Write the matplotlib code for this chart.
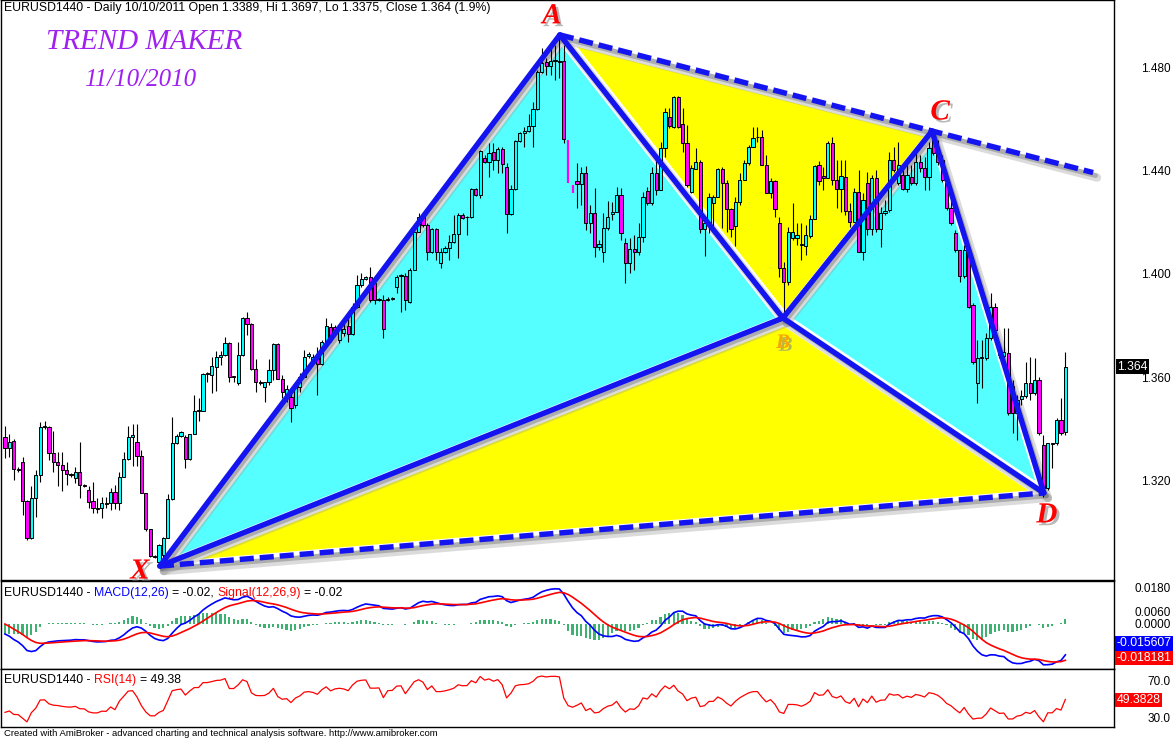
import numpy as np
import matplotlib
matplotlib.use("Agg")
import matplotlib.pyplot as plt
from matplotlib import patheffects as pe
from matplotlib.transforms import offset_copy

# EURUSD daily bars (oldest first, last bar = 10/10/2011)
opens = [
    1.3369, 1.3326, 1.3353, 1.3245, 1.3270, 1.3121, 1.2978, 1.3133, 1.3222, 1.3408,
    1.3408, 1.3307, 1.3270, 1.3260, 1.3240, 1.3225, 1.3210, 1.3233, 1.3183, 1.3164,
    1.3121, 1.3090, 1.3094, 1.3113, 1.3113, 1.3156, 1.3113, 1.3214, 1.3284, 1.3369,
    1.3350, 1.3295, 1.3152, 1.3013, 1.2908, 1.2885, 1.2912, 1.2978, 1.3129, 1.3346,
    1.3373, 1.3369, 1.3284, 1.3381, 1.3469, 1.3469, 1.3613, 1.3609, 1.3640, 1.3678,
    1.3686, 1.3733, 1.3605, 1.3578, 1.3686, 1.3830, 1.3806, 1.3632, 1.3582, 1.3562,
    1.3582, 1.3628, 1.3729, 1.3594, 1.3520, 1.3524, 1.3493, 1.3562, 1.3601, 1.3682,
    1.3667, 1.3675, 1.3651, 1.3736, 1.3795, 1.3795, 1.3744, 1.3771, 1.3798, 1.3767,
    1.3872, 1.3957, 1.3980, 1.3988, 1.3965, 1.3899, 1.3899, 1.3899, 1.3903, 1.3949,
    1.3992, 1.3992, 1.3891, 1.4015, 1.4162, 1.4220, 1.4189, 1.4085, 1.4174, 1.4042,
    1.4085, 1.4100, 1.4123, 1.4154, 1.4228, 1.4220, 1.4220, 1.4329, 1.4305, 1.4449,
    1.4433, 1.4472, 1.4441, 1.4483, 1.4414, 1.4232, 1.4329, 1.4514, 1.4545, 1.4553,
    1.4572, 1.4638, 1.4781, 1.4820, 1.4805, 1.4824, 1.4824, 1.4824, 1.4518, 1.4344,
    1.4360, 1.4348, 1.4390, 1.4197, 1.4236, 1.4104, 1.4085, 1.4178, 1.4232, 1.4240,
    1.4305, 1.4120, 1.4042, 1.4096, 1.4085, 1.4143, 1.4321, 1.4274, 1.4390, 1.4325,
    1.4487, 1.4607, 1.4569, 1.4685, 1.4580, 1.4507, 1.4317, 1.4406, 1.4433, 1.4174,
    1.4197, 1.4274, 1.4298, 1.4406, 1.4352, 1.4251, 1.4185, 1.4278, 1.4363, 1.4429,
    1.4491, 1.4530, 1.4530, 1.4421, 1.4313, 1.4360, 1.4197, 1.4023, 1.3969, 1.4139,
    1.4139, 1.4112, 1.4108, 1.4147, 1.4212, 1.4421, 1.4379, 1.4371, 1.4507, 1.4363,
    1.4329, 1.4375, 1.4243, 1.4201, 1.4317, 1.4085, 1.4352, 1.4174, 1.4371, 1.4174,
    1.4236, 1.4247, 1.4441, 1.4352, 1.4383, 1.4329, 1.4375, 1.4352, 1.4433, 1.4410,
    1.4375, 1.4518, 1.4468, 1.4441, 1.4352, 1.4255, 1.4158, 1.4093, 1.3992, 1.4093,
    1.3880, 1.3578, 1.3675, 1.3675, 1.3752, 1.3872, 1.3686, 1.3682, 1.3694, 1.3566,
    1.3462, 1.3516, 1.3527, 1.3578, 1.3539, 1.3589, 1.3338, 1.3171, 1.3342, 1.3346,
    1.3435, 1.3389,
]
highs = [
    1.3411, 1.3380, 1.3360, 1.3252, 1.3291, 1.3125, 1.3177, 1.3241, 1.3427, 1.3430,
    1.3410, 1.3390, 1.3310, 1.3310, 1.3270, 1.3230, 1.3253, 1.3350, 1.3187, 1.3177,
    1.3195, 1.3133, 1.3137, 1.3137, 1.3172, 1.3183, 1.3233, 1.3311, 1.3411, 1.3420,
    1.3420, 1.3318, 1.3152, 1.3013, 1.2910, 1.2955, 1.2980, 1.3148, 1.3447, 1.3381,
    1.3392, 1.3377, 1.3381, 1.3531, 1.3521, 1.3617, 1.3620, 1.3680, 1.3700, 1.3703,
    1.3756, 1.3737, 1.3605, 1.3737, 1.3833, 1.3853, 1.3810, 1.3670, 1.3590, 1.3582,
    1.3670, 1.3733, 1.3733, 1.3609, 1.3570, 1.3540, 1.3570, 1.3617, 1.3706, 1.3698,
    1.3690, 1.3717, 1.3744, 1.3829, 1.3810, 1.3802, 1.3802, 1.3814, 1.3849, 1.3887,
    1.3996, 1.4003, 1.3992, 1.4027, 1.3976, 1.3907, 1.3918, 1.3911, 1.3911, 1.3996,
    1.4000, 1.4003, 1.4023, 1.4189, 1.4236, 1.4236, 1.4197, 1.4178, 1.4178, 1.4100,
    1.4108, 1.4151, 1.4228, 1.4236, 1.4236, 1.4224, 1.4332, 1.4332, 1.4480, 1.4460,
    1.4507, 1.4507, 1.4491, 1.4491, 1.4429, 1.4344, 1.4518, 1.4549, 1.4569, 1.4619,
    1.4665, 1.4789, 1.4874, 1.4836, 1.4878, 1.4886, 1.4913, 1.4886, 1.4518, 1.4344,
    1.4429, 1.4414, 1.4418, 1.4267, 1.4332, 1.4131, 1.4236, 1.4282, 1.4278, 1.4336,
    1.4332, 1.4139, 1.4139, 1.4151, 1.4197, 1.4317, 1.4336, 1.4414, 1.4441, 1.4510,
    1.4642, 1.4642, 1.4688, 1.4688, 1.4642, 1.4576, 1.4421, 1.4487, 1.4441, 1.4220,
    1.4313, 1.4305, 1.4410, 1.4414, 1.4363, 1.4255, 1.4298, 1.4390, 1.4441, 1.4499,
    1.4569, 1.4569, 1.4557, 1.4460, 1.4371, 1.4363, 1.4220, 1.4046, 1.4182, 1.4274,
    1.4197, 1.4197, 1.4189, 1.4228, 1.4421, 1.4437, 1.4414, 1.4514, 1.4530, 1.4441,
    1.4441, 1.4441, 1.4274, 1.4332, 1.4402, 1.4313, 1.4394, 1.4383, 1.4402, 1.4259,
    1.4286, 1.4472, 1.4491, 1.4510, 1.4429, 1.4421, 1.4421, 1.4468, 1.4460, 1.4452,
    1.4510, 1.4545, 1.4518, 1.4460, 1.4363, 1.4286, 1.4170, 1.4093, 1.4112, 1.4104,
    1.3887, 1.3744, 1.3744, 1.3771, 1.3926, 1.3887, 1.3736, 1.3791, 1.3791, 1.3589,
    1.3531, 1.3551, 1.3659, 1.3678, 1.3675, 1.3601, 1.3377, 1.3346, 1.3346, 1.3442,
    1.3520, 1.3697,
]
lows = [
    1.3288, 1.3292, 1.3202, 1.3232, 1.3067, 1.2970, 1.2974, 1.3060, 1.3195, 1.3400,
    1.3280, 1.3233, 1.3180, 1.3160, 1.3183, 1.3215, 1.3190, 1.3133, 1.3175, 1.3094,
    1.3075, 1.3075, 1.3055, 1.3094, 1.3086, 1.3090, 1.3086, 1.3214, 1.3280, 1.3257,
    1.3257, 1.3152, 1.3005, 1.2905, 1.2900, 1.2866, 1.2880, 1.2978, 1.3125, 1.3340,
    1.3370, 1.3250, 1.3280, 1.3381, 1.3430, 1.3469, 1.3580, 1.3540, 1.3548, 1.3648,
    1.3682, 1.3582, 1.3582, 1.3570, 1.3682, 1.3764, 1.3628, 1.3543, 1.3570, 1.3505,
    1.3570, 1.3590, 1.3594, 1.3520, 1.3505, 1.3427, 1.3481, 1.3543, 1.3601, 1.3675,
    1.3659, 1.3531, 1.3647, 1.3736, 1.3736, 1.3771, 1.3733, 1.3760, 1.3736, 1.3764,
    1.3868, 1.3949, 1.3976, 1.3891, 1.3884, 1.3895, 1.3752, 1.3895, 1.3899, 1.3926,
    1.3853, 1.3860, 1.3887, 1.4015, 1.4162, 1.4182, 1.4054, 1.4081, 1.4054, 1.4023,
    1.4081, 1.4054, 1.4120, 1.4062, 1.4212, 1.4151, 1.4216, 1.4301, 1.4294, 1.4429,
    1.4375, 1.4402, 1.4390, 1.4390, 1.4158, 1.4228, 1.4325, 1.4510, 1.4491, 1.4549,
    1.4491, 1.4634, 1.4777, 1.4770, 1.4770, 1.4750, 1.4758, 1.4507, 1.4352, 1.4313,
    1.4255, 1.4267, 1.4170, 1.4158, 1.4065, 1.4093, 1.4046, 1.4170, 1.4209, 1.4240,
    1.4131, 1.3965, 1.4003, 1.4015, 1.4073, 1.4123, 1.4267, 1.4267, 1.4305, 1.4325,
    1.4452, 1.4565, 1.4565, 1.4565, 1.4472, 1.4336, 1.4313, 1.4406, 1.4158, 1.4069,
    1.4158, 1.4158, 1.4298, 1.4178, 1.4162, 1.4143, 1.4108, 1.4267, 1.4363, 1.4421,
    1.4491, 1.4510, 1.4421, 1.4313, 1.4294, 1.4220, 1.3988, 1.3853, 1.3957, 1.4131,
    1.4112, 1.4054, 1.4073, 1.4139, 1.4212, 1.4344, 1.4325, 1.4371, 1.4344, 1.4255,
    1.4240, 1.4228, 1.4182, 1.4201, 1.4085, 1.4054, 1.4151, 1.4151, 1.4162, 1.4104,
    1.4228, 1.4240, 1.4394, 1.4344, 1.4325, 1.4317, 1.4344, 1.4344, 1.4394, 1.4325,
    1.4325, 1.4460, 1.4421, 1.4356, 1.4247, 1.4189, 1.4085, 1.3969, 1.3984, 1.3868,
    1.3651, 1.3500, 1.3558, 1.3667, 1.3744, 1.3764, 1.3675, 1.3667, 1.3454, 1.3384,
    1.3357, 1.3493, 1.3520, 1.3512, 1.3531, 1.3377, 1.3137, 1.3164, 1.3249, 1.3338,
    1.3377, 1.3375,
]
closes = [
    1.3326, 1.3350, 1.3245, 1.3240, 1.3121, 1.2978, 1.3133, 1.3222, 1.3408, 1.3412,
    1.3307, 1.3270, 1.3260, 1.3240, 1.3225, 1.3222, 1.3233, 1.3183, 1.3180, 1.3117,
    1.3094, 1.3094, 1.3113, 1.3110, 1.3156, 1.3113, 1.3214, 1.3284, 1.3369, 1.3376,
    1.3295, 1.3152, 1.3013, 1.2908, 1.2905, 1.2951, 1.2978, 1.3129, 1.3346, 1.3373,
    1.3389, 1.3284, 1.3381, 1.3469, 1.3472, 1.3613, 1.3616, 1.3644, 1.3678, 1.3686,
    1.3733, 1.3601, 1.3601, 1.3686, 1.3830, 1.3806, 1.3632, 1.3582, 1.3578, 1.3582,
    1.3628, 1.3729, 1.3594, 1.3543, 1.3555, 1.3481, 1.3562, 1.3601, 1.3678, 1.3690,
    1.3678, 1.3651, 1.3736, 1.3798, 1.3744, 1.3783, 1.3795, 1.3787, 1.3767, 1.3872,
    1.3957, 1.3980, 1.3988, 1.3899, 1.3899, 1.3903, 1.3787, 1.3903, 1.3907, 1.3988,
    1.3996, 1.3899, 1.4015, 1.4162, 1.4220, 1.4189, 1.4085, 1.4174, 1.4085, 1.4085,
    1.4100, 1.4123, 1.4154, 1.4228, 1.4216, 1.4220, 1.4329, 1.4305, 1.4476, 1.4433,
    1.4468, 1.4441, 1.4483, 1.4425, 1.4232, 1.4329, 1.4514, 1.4545, 1.4553, 1.4572,
    1.4638, 1.4781, 1.4816, 1.4805, 1.4824, 1.4826, 1.4820, 1.4522, 1.4352, 1.4313,
    1.4348, 1.4390, 1.4197, 1.4236, 1.4104, 1.4116, 1.4178, 1.4220, 1.4240, 1.4305,
    1.4158, 1.4042, 1.4096, 1.4085, 1.4143, 1.4298, 1.4274, 1.4390, 1.4325, 1.4487,
    1.4627, 1.4572, 1.4685, 1.4569, 1.4507, 1.4344, 1.4410, 1.4433, 1.4174, 1.4197,
    1.4298, 1.4298, 1.4406, 1.4352, 1.4251, 1.4174, 1.4278, 1.4363, 1.4429, 1.4491,
    1.4526, 1.4528, 1.4421, 1.4313, 1.4360, 1.4251, 1.4023, 1.3969, 1.4162, 1.4162,
    1.4151, 1.4114, 1.4151, 1.4212, 1.4418, 1.4360, 1.4371, 1.4507, 1.4363, 1.4329,
    1.4379, 1.4243, 1.4201, 1.4317, 1.4085, 1.4286, 1.4174, 1.4371, 1.4174, 1.4236,
    1.4243, 1.4441, 1.4402, 1.4421, 1.4329, 1.4383, 1.4352, 1.4433, 1.4410, 1.4375,
    1.4487, 1.4468, 1.4433, 1.4363, 1.4255, 1.4197, 1.4093, 1.3992, 1.4093, 1.3872,
    1.3659, 1.3675, 1.3678, 1.3752, 1.3872, 1.3783, 1.3690, 1.3698, 1.3462, 1.3462,
    1.3512, 1.3527, 1.3578, 1.3539, 1.3589, 1.3384, 1.3171, 1.3346, 1.3346, 1.3435,
    1.3384, 1.3640,
]
# two bars drawn as plain magenta strokes (no outline) right after the A top
bare_bars = [128, 129]

# harmonic pattern pivots (bar index, price)
pattern_names = ["X", "A", "B", "C", "D"]
pattern_bars = [35.2, 126.1, 176.8, 210.7, 236.1]
pattern_prices = [1.2869, 1.4925, 1.3829, 1.4553, 1.3152]
ac_extension_bar = 247.3

# indicator state at the first visible bar (the chart has history before it)
ema_fast_offset = 0.021    # EMA(12) minus first close
ema_slow_offset = 0.026    # EMA(26) minus first close
signal_start = 0.0
rsi_gain_start = 0.0028
rsi_loss_start = 0.0050

price_ticks = [1.480, 1.440, 1.400, 1.360, 1.320]
macd_ticks = [0.018, 0.006, 0.0]
rsi_ticks = [70.0, 30.0]

BLUE = "#1414F0"
CYAN_FILL = "#55FFFF"
YELLOW_FILL = "#FFFF00"
FONT = ["Liberation Sans", "DejaVu Sans"]
HDR = 8.8

W, H = 1175, 741
fig = plt.figure(figsize=(W / 100, H / 100), dpi=100, facecolor="white")


def px_axes(left, top, right, bottom):
    return fig.add_axes([left / W, 1 - bottom / H, (right - left) / W, (bottom - top) / H])


def style_axes(ax, ticks, fmt):
    ax.set_xticks([])
    for s in ax.spines.values():
        s.set_linewidth(1.0)
        s.set_color("black")
    ax.yaxis.set_ticks_position("right")
    ax.set_yticks(ticks)
    ax.set_yticklabels([fmt.format(v) for v in ticks], family=FONT, fontsize=8.5)
    ax.tick_params(axis="y", length=0, pad=41)
    for lbl in ax.get_yticklabels():
        lbl.set_horizontalalignment("right")


def header(ax, y, parts):
    t = ax.text(3 / 1113, y, parts[0][0], color=parts[0][1], transform=ax.transAxes,
                va="bottom", ha="left", fontsize=HDR, family=FONT)
    for s, c in parts[1:]:
        t = ax.annotate(s, xy=(1, 0), xycoords=t, xytext=(2.5, 0), textcoords="offset points",
                        va="bottom", ha="left", fontsize=HDR, family=FONT, color=c)


def value_box(ax, y, text, bg):
    ax.text(1.0025, y, text, transform=ax.transAxes, va="center", ha="left", color="white",
            fontsize=8.8, family=FONT, clip_on=False,
            bbox=dict(boxstyle="square,pad=0.12", fc=bg, ec="none"))


def ema(values, span, start):
    alpha = 2.0 / (span + 1)
    out = [start]
    for v in values[1:]:
        out.append(out[-1] + alpha * (v - out[-1]))
    return np.array(out)


def wilder(values, n, start):
    out = [start]
    for v in values[1:]:
        out.append(out[-1] + (v - out[-1]) / n)
    return np.array(out)


bars = np.arange(len(closes))
o = np.array(opens)
h = np.array(highs)
l = np.array(lows)
c = np.array(closes)
normal = ~np.isin(bars, bare_bars)

# ---------------- price panel ----------------
ax = px_axes(1, 0, 1114, 580)
ax.set_xlim(-0.9, 252.05)
ax.set_ylim(1.2815, 1.506)
style_axes(ax, price_ticks, "{:.3f}")

X, A, B, C, D = list(zip(pattern_bars, pattern_prices))
ac_slope = (C[1] - A[1]) / (C[0] - A[0])
E = (ac_extension_bar, C[1] + ac_slope * (ac_extension_bar - C[0]))

for tri, col in [((X, A, B), CYAN_FILL), ((A, B, C), YELLOW_FILL),
                 ((B, C, D), CYAN_FILL), ((X, B, D), YELLOW_FILL)]:
    ax.fill([p[0] for p in tri], [p[1] for p in tri], color=col, lw=0, zorder=0.5)

solid_legs = [(X, A), (A, B), (B, C), (C, D), (X, B), (B, D)]
dashed_legs = [(A, E), (X, D)]
halo_tr = offset_copy(ax.transData, fig=fig, x=2, y=-2, units="dots")
shadow_far = offset_copy(ax.transData, fig=fig, x=4, y=-5, units="dots")
shadow_near = offset_copy(ax.transData, fig=fig, x=2.5, y=-3, units="dots")

for p, q in solid_legs + dashed_legs:
    xs, ys = [p[0], q[0]], [p[1], q[1]]
    ax.plot(xs, ys, color="white", lw=8.5, transform=halo_tr, solid_capstyle="round", zorder=1)
    ax.plot(xs, ys, color="#9a9a9a", alpha=0.35, lw=6, transform=shadow_far,
            solid_capstyle="round", zorder=1.1)
    ax.plot(xs, ys, color="#808080", alpha=0.5, lw=3.5, transform=shadow_near,
            solid_capstyle="round", zorder=1.2)

# candles
up = c >= o
colors = np.where(up, "#00FFFF", "#FF00FF")
body = np.where(np.abs(c - o) < 0.00015, 0.00015, c - o)
ax.vlines(bars[normal], l[normal], h[normal], color="black", lw=0.8, zorder=2)
ax.bar(bars[normal], body[normal], bottom=o[normal], width=0.72, color=colors[normal],
       edgecolor="black", linewidth=0.7, zorder=2.1)
ax.vlines(bars[~normal], l[~normal], h[~normal], color="#FF00FF", lw=1.6, zorder=2.1)

for p, q in solid_legs:
    ax.plot([p[0], q[0]], [p[1], q[1]], color=BLUE, lw=3.9, solid_capstyle="round", zorder=3)
for p, q in dashed_legs:
    ax.plot([p[0], q[0]], [p[1], q[1]], color=BLUE, lw=3.9, dashes=(2.6, 1.1), zorder=3)

label_offsets = {"X": (-20, -5), "A": (-8, 19), "B": (0, -25), "C": (8, 19), "D": (3, -22)}
shadow = [pe.withSimplePatchShadow(offset=(2, -2), shadow_rgbFace="#888888", alpha=0.6)]
for name, bx, py in zip(pattern_names, pattern_bars, pattern_prices):
    ax.annotate(name, xy=(bx, py), xytext=label_offsets[name], textcoords="offset pixels",
                ha="center", va="center", family=["Liberation Serif", "DejaVu Serif"],
                style="italic", weight="bold",
                fontsize=15 if name == "B" else 21,
                color="#F5A800" if name == "B" else "#FF0000",
                path_effects=shadow, zorder=4)

ax.text(0.1285, 0.928, "TREND MAKER", transform=ax.transAxes, ha="center", va="center",
        family=["Liberation Serif", "DejaVu Serif"], style="italic", fontsize=21, color="#A020F0")
ax.text(0.1249, 0.862, "11/10/2010", transform=ax.transAxes, ha="center", va="center",
        family=["Liberation Serif", "DejaVu Serif"], style="italic", fontsize=18, color="#A020F0")

header(ax, 0.976, [("EURUSD1440 - Daily 10/10/2011 Open 1.3389, Hi 1.3697, Lo 1.3375, "
                    "Close 1.364 (1.9%)", "black")])
ax.text(1.0027, closes[-1], "1.364", transform=ax.get_yaxis_transform(), va="center",
        ha="left", color="white", fontsize=8.8, family=FONT, clip_on=False,
        bbox=dict(boxstyle="square,pad=0.12", fc="black", ec="none"))

# ---------------- MACD panel ----------------
macd = ema(closes, 12, closes[0] + ema_fast_offset) - ema(closes, 26, closes[0] + ema_slow_offset)
signal = ema(macd, 9, signal_start)
hist = macd - signal

ax_m = px_axes(1, 581, 1114, 669)
ax_m.set_xlim(-0.9, 252.05)
ax_m.set_ylim(-0.0225, 0.0215)
style_axes(ax_m, macd_ticks, "{:.4f}")
ax_m.bar(bars, hist, width=0.5, color="#3CB371", zorder=1)
ax_m.plot(bars, macd, color="#0000FF", lw=1.2, zorder=2)
ax_m.plot(bars, signal, color="#FF0000", lw=1.2, zorder=3)
header(ax_m, 0.80, [("EURUSD1440 -", "black"), ("MACD(12,26)", "#0000FF"), ("= -0.02,", "black"),
                    ("Signal(12,26,9)", "#FF0000"), ("= -0.02", "black")])
value_box(ax_m, 0.295, "-0.015607", "#0000FF")
value_box(ax_m, 0.125, "-0.018181", "#FF0000")

# ---------------- RSI panel ----------------
delta = np.diff(c, prepend=c[0])
avg_gain = wilder(np.clip(delta, 0, None), 14, rsi_gain_start)
avg_loss = wilder(np.clip(-delta, 0, None), 14, rsi_loss_start)
rsi = 100 - 100 / (1 + avg_gain / avg_loss)

ax_r = px_axes(1, 669, 1114, 727)
ax_r.set_xlim(-0.9, 252.05)
ax_r.set_ylim(20.5, 81.6)
style_axes(ax_r, rsi_ticks, "{:.1f}")
ax_r.plot(bars, rsi, color="#FF0000", lw=0.9)
header(ax_r, 0.70, [("EURUSD1440 -", "black"), ("RSI(14)", "#FF0000"), ("= 49.38", "black")])
value_box(ax_r, 0.466, "49.3828", "#FF0000")

fig.text(4 / W, 1 - 734 / H,
         "Created with AmiBroker - advanced charting and technical analysis software. "
         "http://www.amibroker.com",
         ha="left", va="center", fontsize=6.8, family=FONT)

fig.savefig("out.png", dpi=100, facecolor="white")
